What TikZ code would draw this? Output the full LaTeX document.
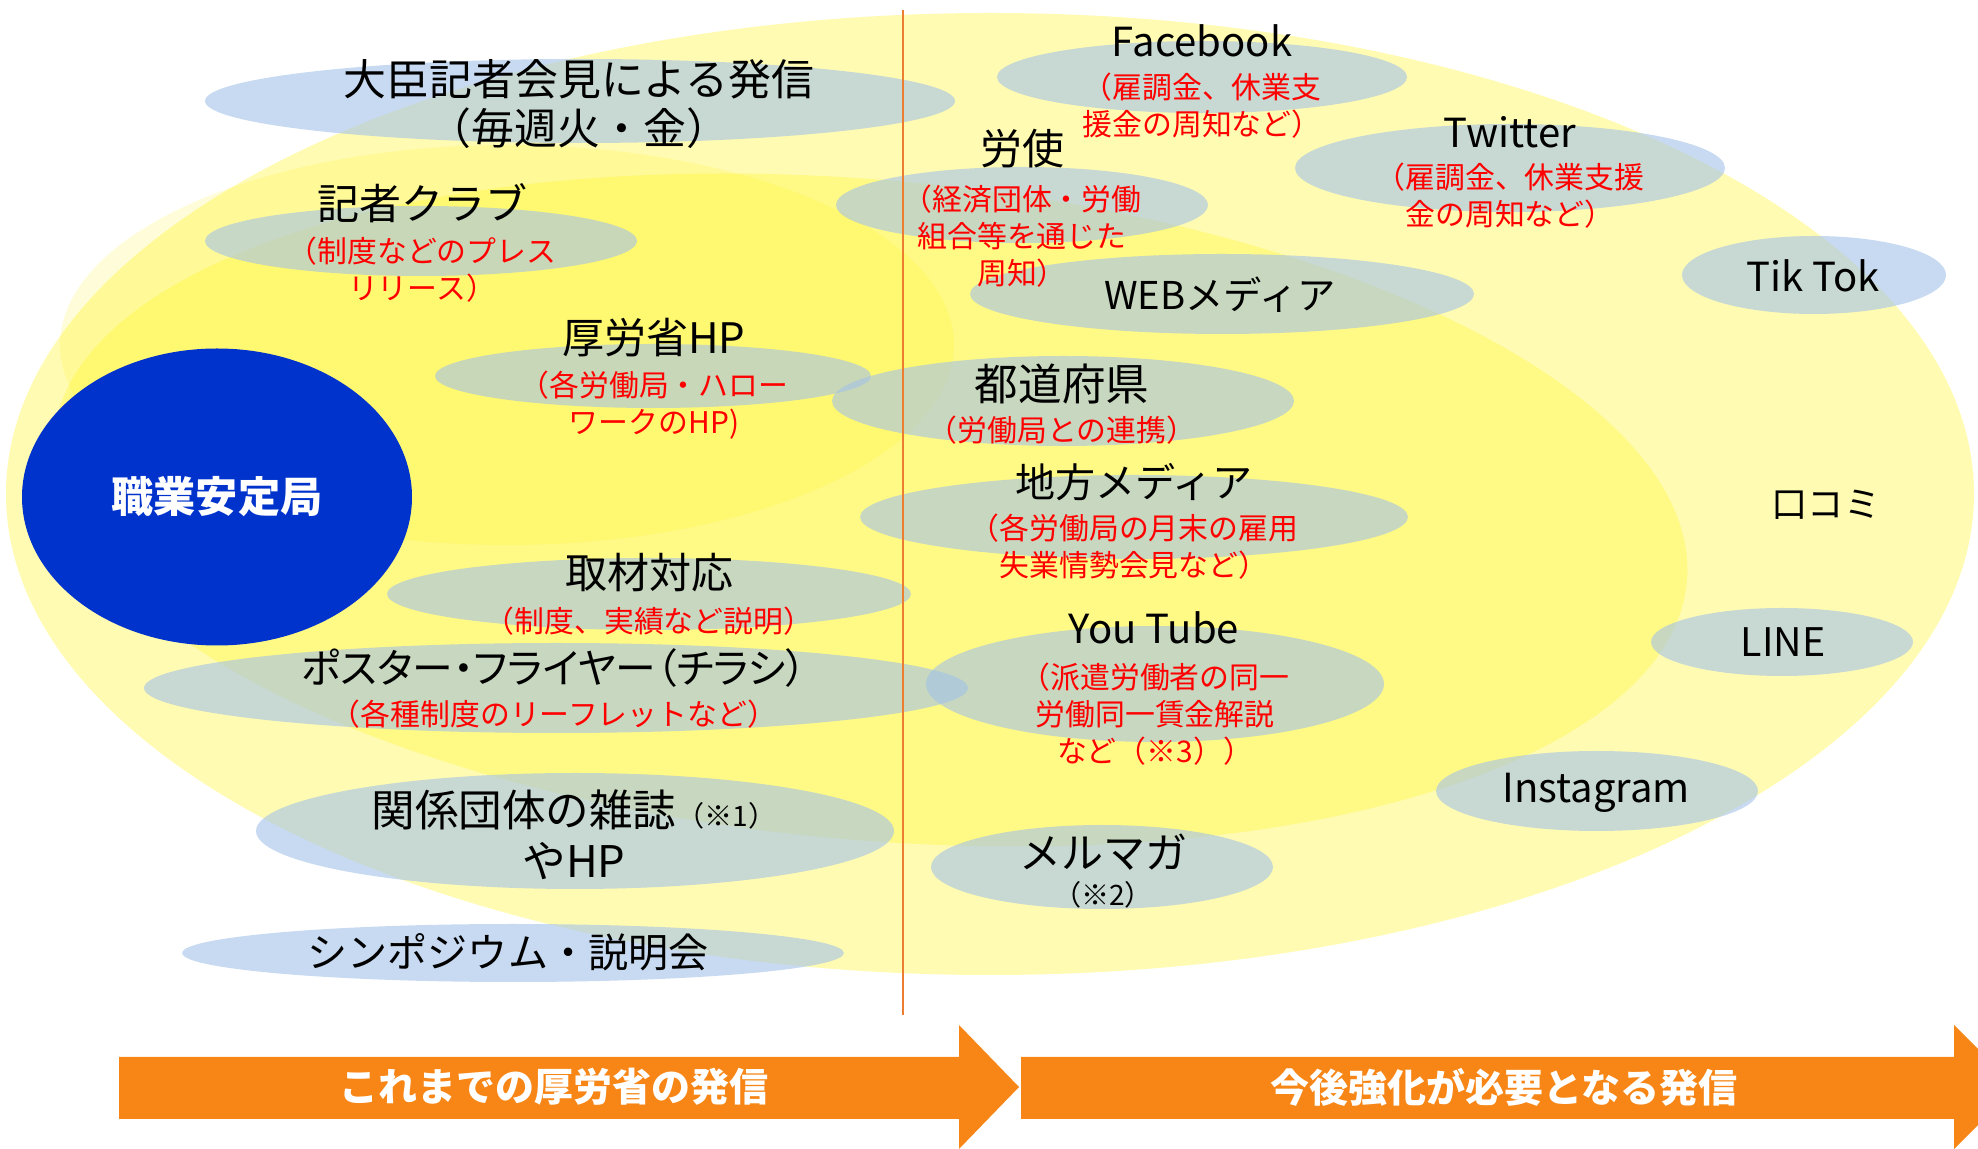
\documentclass[tikz,border=0pt]{standalone}
\usepackage{fontspec}
\setmainfont{Noto Sans CJK JP}
\usetikzlibrary{shapes.geometric}

\definecolor{anteiblue}{RGB}{0,51,204}
\definecolor{spotblue}{RGB}{163,194,231}
\definecolor{floworange}{RGB}{247,134,22}
\definecolor{lineorange}{RGB}{237,125,49}

\begin{document}
\begin{tikzpicture}[x=0.1mm, y=-0.1mm,
    spot/.style 2 args={ellipse, fill=spotblue, fill opacity=0.6, inner sep=0pt, minimum width=#1*0.2mm, minimum height=#2*0.2mm},
    ttl/.style={inner sep=0pt, align=center, font=\fontsize{11.95}{13.9}\selectfont},
    note/.style={inner sep=0pt, align=center, text=red, font=\fontsize{8.5}{10.6}\selectfont},
    banner/.style={inner sep=0pt, text=white, font=\bfseries\fontsize{11.1}{13}\selectfont}]
  \useasboundingbox (0,0) rectangle (1978,1149);
  \clip (0,0) rectangle (1978,1149);

  \fill[yellow, fill opacity=0.3] (990,494) ellipse [x radius=984, y radius=481];
  \fill[yellow, fill opacity=0.15] (507,345) ellipse [x radius=447, y radius=200];
  \fill[yellow, fill opacity=0.25, rotate around={-5:(870,510)}] (870,510) ellipse [x radius=820, y radius=330];

  \node[ellipse, fill=anteiblue, inner sep=0pt, minimum width=39mm, minimum height=29.7mm, text=white, font=\bfseries\fontsize{12}{14}\selectfont] (antei) at (217,497) {職業安定局};

  \node[spot={375}{42}] (daijin) at (580,101) {};
  \node[spot={216}{35}] (kisha) at (421,241) {};
  \node[spot={218}{32}] (hp) at (653,376) {};
  \node[spot={262}{36}] (shuzai) at (649,594) {};
  \node[spot={412}{45}] (poster) at (556,688) {};
  \node[spot={319}{58}] (kankei) at (575,831) {};
  \node[spot={331}{29}] (sympo) at (513,953) {};
  \node[spot={205}{36}] (fb) at (1202,77) {};
  \node[spot={186}{38}] (roushi) at (1022,205) {};
  \node[spot={215}{44}] (tw) at (1510,168) {};
  \node[spot={132}{39}] (tiktok) at (1814,275) {};
  \node[spot={252}{40}] (web) at (1222,294) {};
  \node[spot={231}{45}] (pref) at (1063,401) {};
  \node[spot={274}{42}] (chihou) at (1134,517) {};
  \node[spot={229}{58}] (yt) at (1155,684) {};
  \node[spot={131}{34}] (line) at (1782,642) {};
  \node[spot={161}{40}] (insta) at (1597,791) {};
  \node[spot={171}{42}] (mag) at (1102,867) {};

  \draw[lineorange, line width=0.6pt] (903,10) -- (903,1015);

  \node[ttl, font=\fontsize{12.2}{13.9}\selectfont] (daijin-t) at (579,104) {大臣記者会見による発信\\（毎週火・金）};
  \node[ttl] (kisha-t) at (422,203) {記者クラブ};
  \node[note] (kisha-n) at (422,270) {（制度などのプレス\\リリース）};
  \node[ttl] (hp-t) at (654,338) {厚労省HP};
  \node[note] (hp-n) at (654,405) {（各労働局・ハロー\\ワークのHP)};
  \node[ttl] (shuzai-t) at (649,573) {取材対応};
  \node[note] (shuzai-n) at (649,621) {（制度、実績など説明）};
  \node[ttl, font=\fontsize{11.6}{13.9}\selectfont\addfontfeatures{RawFeature=+palt}] (poster-t) at (554,668) {ポスター・フライヤー（チラシ）};
  \node[note] (poster-n) at (554,714) {（各種制度のリーフレットなど）};
  \node[ttl, font=\fontsize{12.4}{14.5}\selectfont] (kankei-t) at (574,835) {関係団体の雑誌{\fontsize{8}{10}\selectfont（※1）}\\やHP};
  \node[ttl, font=\fontsize{11.4}{12}\selectfont] (sympo-t) at (508,952) {シンポジウム・説明会};

  \node[ttl, font=\fontsize{11.4}{13}\selectfont] (fb-t) at (1202,41) {Facebook};
  \node[note] (fb-n) at (1202,106) {（雇調金、休業支\\援金の周知など）};
  \node[ttl] (roushi-t) at (1022,149) {労使};
  \node[note] (roushi-n) at (1022,236) {（経済団体・労働\\組合等を通じた\\周知）};
  \node[ttl, font=\fontsize{11.4}{13}\selectfont] (tw-t) at (1510,132) {Twitter};
  \node[note] (tw-n) at (1510,196) {（雇調金、休業支援\\金の周知など）};
  \node[ttl, font=\fontsize{11.4}{13}\selectfont] (tiktok-t) at (1813,276) {Tik Tok};
  \node[ttl, font=\fontsize{10.9}{13}\selectfont] (web-t) at (1220,295) {WEBメディア};
  \node[ttl, font=\fontsize{12.4}{14}\selectfont] (pref-t) at (1062,384) {都道府県};
  \node[note] (pref-n) at (1062,430) {（労働局との連携）};
  \node[ttl, font=\fontsize{11.4}{13}\selectfont] (chihou-t) at (1134,482) {地方メディア};
  \node[note] (chihou-n) at (1134,547) {（各労働局の月末の雇用\\失業情勢会見など）};
  \node[ttl, font=\fontsize{11.4}{13}\selectfont] (yt-t) at (1154,628) {You Tube};
  \node[note] (yt-n) at (1155,714) {（派遣労働者の同一\\労働同一賃金解説\\など（※3））};
  \node[ttl, font=\fontsize{11.2}{13}\selectfont] (line-t) at (1783,642) {LINE};
  \node[ttl, font=\fontsize{11.4}{13}\selectfont] (insta-t) at (1596,793) {Instagram};
  \node[ttl] (mag-t) at (1103,852) {メルマガ};
  \node[ttl, font=\fontsize{8}{10}\selectfont] (mag-n) at (1103,895) {（※2）};
  \node[ttl, font=\fontsize{10.3}{12}\selectfont] (kuchikomi) at (1826,505) {口コミ};

  \fill[floworange] (119,1057) -- (959,1057) -- (959,1025) -- (1019,1087) -- (959,1149) -- (959,1119) -- (119,1119) -- cycle;
  \fill[floworange] (1021,1057) -- (1954,1057) -- (1954,1025) -- (2016,1087) -- (1954,1149) -- (1954,1119) -- (1021,1119) -- cycle;
  \node[banner] (past) at (554,1087) {これまでの厚労省の発信};
  \node[banner] (future) at (1504,1087) {今後強化が必要となる発信};
\end{tikzpicture}
\end{document}
